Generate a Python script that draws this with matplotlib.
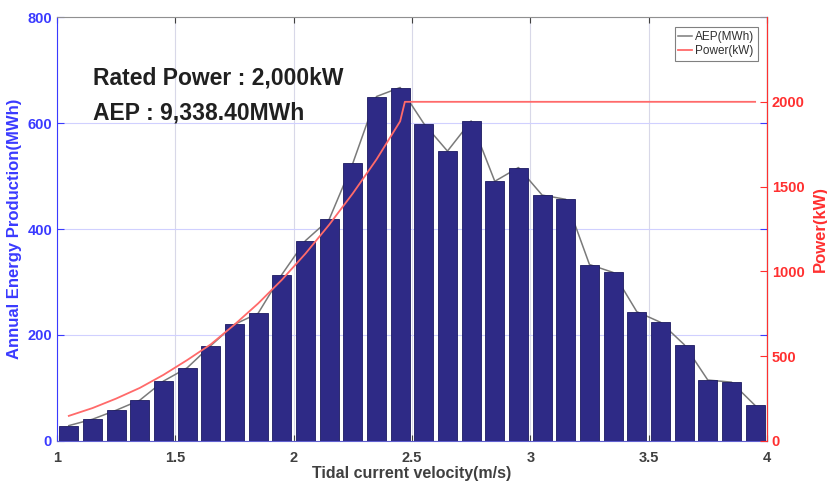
import matplotlib.pyplot as plt
import numpy as np

plt.rcParams['font.family'] = ['Liberation Sans', 'DejaVu Sans']

# tidal current velocity bins (m/s) and annual energy production per bin (MWh)
velocity = [1.05, 1.15, 1.25, 1.35, 1.45, 1.55, 1.65, 1.75, 1.85, 1.95,
            2.05, 2.15, 2.25, 2.35, 2.45, 2.55, 2.65, 2.75, 2.85, 2.95,
            3.05, 3.15, 3.25, 3.35, 3.45, 3.55, 3.65, 3.75, 3.85, 3.95]
aep = [29, 41, 58, 77, 113, 138, 180, 220, 241, 314,
       378, 418, 524, 650, 667, 599, 547, 604, 490, 516,
       464, 456, 333, 318, 244, 224, 182, 115, 111, 67]

# turbine power curve (kW)
power_v = [1.05, 1.15, 1.25, 1.35, 1.45, 1.55, 1.65, 1.75, 1.85, 1.95,
           2.05, 2.15, 2.25, 2.35, 2.45, 2.47, 3.95]
power = [148, 194, 250, 313, 390, 477, 570, 686, 811, 950,
         1105, 1275, 1460, 1660, 1885, 2000, 2000]

blue = '#3a3aff'
red = '#ff3030'

fig = plt.figure(figsize=(8.27, 4.92), dpi=100)
ax = fig.add_axes([0.0689, 0.1037, 0.8585, 0.8617])
ax2 = ax.twinx()

ax.bar(velocity, aep, width=0.08, color='#2e2a86', edgecolor='#1c1a60',
       linewidth=0.6, zorder=3)
l1, = ax.plot(velocity, aep, color='#7a7a7a', lw=1.1, zorder=2, label='AEP(MWh)')
l2, = ax2.plot(power_v, power, color='#ff6a6a', lw=1.3, label='Power(kW)')

ax.set_xlim(1, 4)
ax.set_ylim(0, 800)
ax2.set_ylim(0, 2500)
ax.set_xticks([1, 1.5, 2, 2.5, 3, 3.5, 4])
ax.set_xticklabels(['1', '1.5', '2', '2.5', '3', '3.5', '4'])
ax.set_yticks([0, 200, 400, 600, 800])
ax2.set_yticks([0, 500, 1000, 1500, 2000])

ax.grid(axis='x', color='#d8d8e8', lw=0.8, zorder=0)
ax.grid(axis='y', color='#d0d0ff', lw=0.8, zorder=0)
ax.set_axisbelow(True)

ax.tick_params(axis='x', direction='in', top=True, labelsize=10.5,
               colors='#404040', length=4, pad=7)
ax.tick_params(axis='y', direction='in', right=True, labelsize=10.5,
               colors=blue, length=5)
ax2.tick_params(axis='y', direction='in', labelsize=10.5, colors=red, length=5)
for lab in ax.get_xticklabels() + ax.get_yticklabels() + ax2.get_yticklabels():
    lab.set_fontweight('bold')

ax.spines['left'].set_color(blue)
ax.spines['bottom'].set_color('#6060d0')
ax.spines['top'].set_color('#909090')
ax2.spines['right'].set_color(red)
ax2.spines['left'].set_visible(False)
ax2.spines['top'].set_visible(False)
ax2.spines['bottom'].set_visible(False)

ax.set_xlabel('Tidal current velocity(m/s)', fontsize=11.5, fontweight='bold',
              color='#404040', labelpad=1)
ax.set_ylabel('Annual Energy Production(MWh)', fontsize=12, fontweight='bold',
              color=blue, labelpad=4)
ax2.set_ylabel('Power(kW)', fontsize=12, fontweight='bold', color=red, labelpad=6)

ax.text(0.051, 0.857, 'Rated Power : 2,000kW', transform=ax.transAxes,
        fontsize=16.5, fontweight='bold', color='#202020', va='center')
ax.text(0.051, 0.774, 'AEP : 9,338.40MWh', transform=ax.transAxes,
        fontsize=16.5, fontweight='bold', color='#202020', va='center')

leg = ax2.legend([l1, l2], ['AEP(MWh)', 'Power(kW)'], loc='upper right',
                 fontsize=8.5, handlelength=1.2, handletextpad=0.2,
                 borderpad=0.3, labelspacing=0.2, fancybox=False,
                 bbox_to_anchor=(0.995, 0.99))
leg.get_frame().set_edgecolor('#606060')
leg.get_frame().set_linewidth(0.8)
for t in leg.get_texts():
    t.set_color('#303030')

fig.savefig('out.png', dpi=100)
